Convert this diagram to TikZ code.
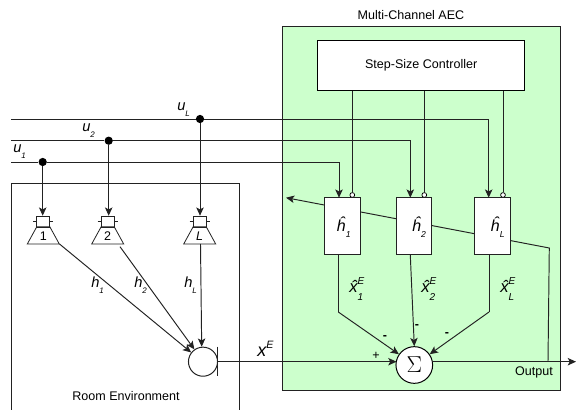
\documentclass[tikz,border=0pt]{standalone}
\usepackage{fontspec}
\setmainfont{Liberation Sans}
\usetikzlibrary{arrows.meta,calc}
\definecolor{aecgreen}{HTML}{CCFFCC}
\definecolor{linegray}{HTML}{222222}
\newcommand{\txt}{\fontsize{9.4}{11}\selectfont}
\newcommand{\symlbl}[2]{{\fontsize{11}{12}\selectfont\itshape #1}\raisebox{-4.2pt}{\fontsize{6}{7}\selectfont\itshape #2}}
\newcommand{\hatlbl}[1]{{\fontsize{12}{12}\selectfont\itshape ĥ}\raisebox{-4.4pt}{\fontsize{6.5}{7}\selectfont\itshape #1}}
\newcommand{\xhat}[1]{{\fontsize{12.5}{12}\selectfont\itshape x\char"0302\relax}\rlap{\raisebox{6.6pt}{\fontsize{7.5}{8}\selectfont\itshape E}}\raisebox{-5.6pt}{\fontsize{7.5}{8}\selectfont\itshape #1}}
\tikzset{
  conn/.style={draw=linegray,line width=0.72pt},
  arr/.style={conn,-{Stealth[length=6.2pt,width=5.6pt,inset=1.5pt]}},
  dot/.style={circle,fill=black,inner sep=0pt,minimum size=6.2pt},
  filt/.style={draw=linegray,fill=white,line width=0.75pt,inner sep=0pt,minimum width=26.7pt,minimum height=42.7pt},
  txtlbl/.style={inner sep=0pt,font=\txt},
  lbl/.style={inner sep=0pt,anchor=base west},
  spkbox/.style={draw=linegray,fill=white,line width=0.6pt,inner sep=0pt,minimum width=9.8pt,minimum height=8.2pt},
  ctrl/.style={circle,draw=black,fill=white,line width=0.55pt,inner sep=0pt,minimum size=3.6pt},
}
\begin{document}
\begin{tikzpicture}[x=0.75pt,y=-0.75pt]
\useasboundingbox (0,0) rectangle (576,410);
% boxes
\path[fill=aecgreen,draw=linegray,line width=0.75pt] (282,26.7) rectangle (560,390);
\node[draw=black,fill=white,line width=0.75pt,minimum width=155.3pt,minimum height=37.5pt,inner sep=0pt,font=\txt] (ctl) at (421.2,65.7) {Step-Size Controller};
\draw[draw=linegray,line width=0.75pt] (239,410) -- (239,183.7) -- (11,183.7) -- (11,410);
\node[txtlbl] (aectitle) at (411,14.7) {Multi-Channel AEC};
\node[txtlbl] (roomtitle) at (126,396) {Room Environment};
% junctions
\node[dot] (d1) at (42.7,162) {};
\node[dot] (d2) at (108.7,140.7) {};
\node[dot] (dL) at (200,119) {};
\coordinate (s1) at (11,162);
\coordinate (s2) at (11,140.7);
\coordinate (sL) at (11,119);
% speakers
\foreach \n/\cx in {1/43.3,2/107.7,L/199.7}{
  \draw[conn,line width=0.6pt] (\cx-10,221.7) -- (\cx+10,221.7);
  \node[spkbox,anchor=north] (spk\n) at (\cx,215.7) {};
  \node[draw=none,inner sep=0pt,minimum width=24pt,minimum height=13pt] (cone\n) at (\cx,235.8) {};
  \draw[conn,line width=0.6pt] (\cx-6.5,226.7) -- (\cx-16,244) -- (\cx+16,244) -- (\cx+6.5,226.7) -- cycle;
}
\node[txtlbl] at (cone1) {1};
\node[txtlbl] at (cone2) {2};
\node[txtlbl,font=\txt\itshape] at (coneL) {L};
% filters
\coordinate (in1) at (339,197.7);
\coordinate (in2) at (410.3,197.7);
\coordinate (inL) at (488.7,197.7);
\coordinate (fbend) at (549.3,248);
\coordinate (fend) at (286,197.7);
\coordinate (onode) at (548,361.7);
\draw[conn] (sL) -- (dL);
\draw[conn] (s2) -- (d2);
\draw[conn] (s1) -- (d1);
\draw[arr] (dL) -- (488.7,119) -- (inL);
\draw[arr] (d2) -- (410.3,140.7) -- (in2);
\draw[arr] (d1) -- (339,162) -- (in1);
\draw[arr] (d1) -- (d1 |- spk1.north) ;
\draw[arr] (d2) -- (d2 |- spk2.north) ;
\draw[arr] (dL) -- (dL |- spkL.north) ;
\node[ctrl] (c1) at (352.3,195) {};
\node[ctrl] (c2) at (424.3,195) {};
\node[ctrl] (cL) at (503,195) {};
\draw[conn] (ctl.south -| c1) -- (c1);
\draw[conn] (ctl.south -| c2) -- (c2);
\draw[conn] (ctl.south -| cL) -- (cL);
\draw[arr] (onode) -- (fbend) -- (fend);
\node[filt] (h1) at (342.5,226.2) {};
\node[filt] (h2) at (413.9,226.2) {};
\node[filt] (hL) at (492.2,226.2) {};
\node[lbl] at (336.7,232) {\hatlbl{1}};
\node[lbl] at (412,232) {\hatlbl{2}};
\node[lbl] at (490.7,232) {\hatlbl{L}};
% sum and room
\node[circle,draw=black,fill=white,line width=0.75pt,inner sep=0pt,minimum size=27.5pt,font=\fontsize{17}{17}\selectfont] (sum) at (414.3,365) {$\Sigma$};
\node[circle,draw=linegray,fill=white,line width=0.75pt,inner sep=0pt,minimum size=21.8pt] (mic) at (203,361.7) {};
\draw[conn] (217.6,346.7) -- (217.6,376);
\coordinate (micout) at (217.6,361.7);
\coordinate (sumin) at (396.5,361.7);
\coordinate (sumout) at (432,361.7);
\coordinate (outend) at (576,361.7);
\coordinate (k1) at (338.3,312);
\coordinate (kL) at (489,312);
\draw[arr] (micout) -- (sumin);
\draw[arr] (sumout) -- (outend);
\draw[conn] (338.3,254.7) -- (k1);
\draw[conn] (489,254.7) -- (kL);
\draw[arr] (k1) -- (sum.145);
\draw[arr] (kL) -- (sum.35);
\draw[arr] (h2.south) ++(-3.6,0) -- (sum.north);
\draw[arr] (59.5,244) -- (mic.142);
\draw[arr] (120,246.7) -- (mic.125);
\draw[arr] (200.5,244) -- (mic.95);
% labels
\node[lbl] at (177,111) {\symlbl{u}{L}};
\node[lbl] at (82,132) {\symlbl{u}{2}};
\node[lbl] at (13,153) {\symlbl{u}{1}};
\node[lbl] at (91,288) {\symlbl{h}{1}};
\node[lbl] at (134,288) {\symlbl{h}{2}};
\node[lbl] at (184,288) {\symlbl{h}{L}};
\node[lbl] at (349,293) {\xhat{1}};
\node[lbl] at (421,293) {\xhat{2}};
\node[lbl] at (500,293) {\xhat{L}};
\node[lbl] at (257,357) {{\fontsize{13.5}{13}\selectfont\itshape x}\raisebox{6pt}{\fontsize{8}{8}\selectfont\itshape E}};
\node[txtlbl] at (376,356) {+};
\node[txtlbl,font=\txt\bfseries] at (385,338) {-};
\node[txtlbl,font=\txt\bfseries] at (417,327) {-};
\node[txtlbl,font=\txt\bfseries] at (447,335) {-};
\node[txtlbl] at (534,372) {Output};
\end{tikzpicture}
\end{document}
